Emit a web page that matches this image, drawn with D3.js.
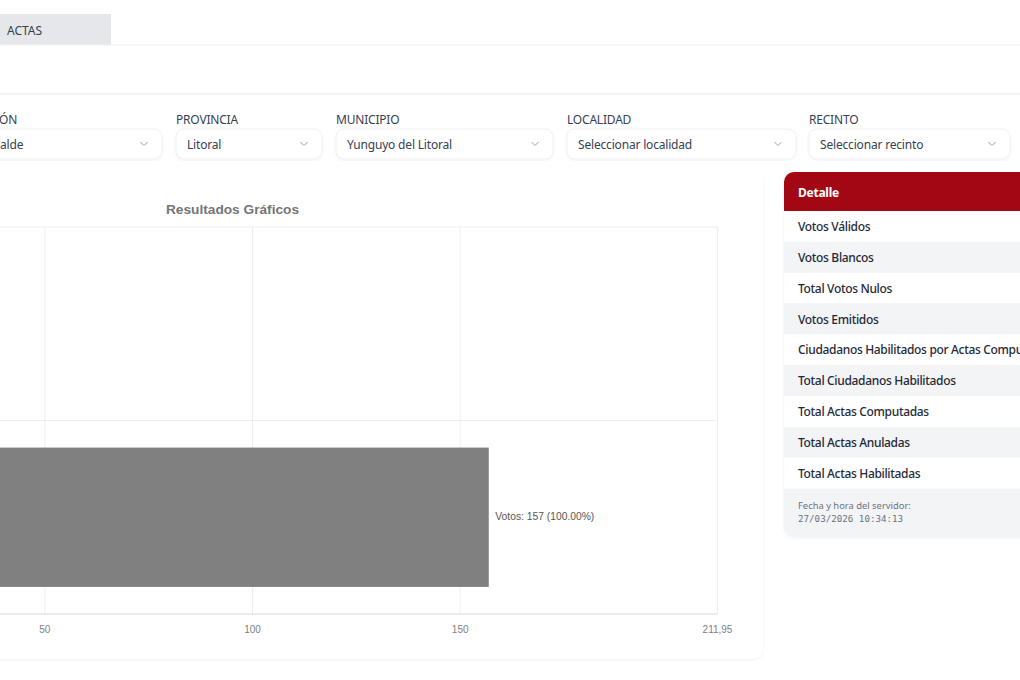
<!DOCTYPE html>
<html lang="es">
<head>
<meta charset="utf-8">
<title>Resultados Gráficos</title>
<script src="https://cdn.jsdelivr.net/npm/d3@7"></script>
<style>
    html, body { margin: 0; padding: 0; width: 1020px; height: 680px; overflow: hidden; background: #fff; }
    svg { display: block; font-family: "Noto Sans", sans-serif; }
    .x-axis .domain { display: none; }
    .x-axis line { stroke: #eeeeee; }
    .x-axis text { font-family: "Liberation Sans", sans-serif; font-size: 10px; fill: #808080; }
</style>
</head>
<body>
<svg id="page" width="1020" height="680"></svg>
<script>
// chart values
const BAR_SLOTS = [1, 2];
const BAR_VALUES = [0, 157];
const AXIS_MAX = 211.95;
const AXIS_TICKS = [50, 100, 150, 211.95];

// page texts
const FILTER_LABELS = ['ÓN', 'PROVINCIA', 'MUNICIPIO', 'LOCALIDAD', 'RECINTO'];
const FILTER_VALUES = ['alde', 'Litoral', 'Yunguyo del Litoral', 'Seleccionar localidad', 'Seleccionar recinto'];
const DETAIL_ROWS = [
    'Votos Válidos',
    'Votos Blancos',
    'Total Votos Nulos',
    'Votos Emitidos',
    'Ciudadanos Habilitados por Actas Computadas',
    'Total Ciudadanos Habilitados',
    'Total Actas Computadas',
    'Total Actas Anuladas',
    'Total Actas Habilitadas'
];

// layout of the boxes on the page: [left, right]
const filterBoxes = [[-60, 162], [176, 322], [336, 553], [567, 796], [809, 1010]];

const svg = d3.select('#page');
const defs = svg.append('defs');
defs.append('filter').attr('id', 'soft')
    .attr('x', '-5%').attr('y', '-5%').attr('width', '110%').attr('height', '110%')
    .append('feDropShadow')
    .attr('dx', 0).attr('dy', 1).attr('stdDeviation', 1.5)
    .attr('flood-color', '#000').attr('flood-opacity', 0.06);

// tab bar
svg.append('rect').attr('x', -10).attr('y', 14).attr('width', 121).attr('height', 31).attr('fill', '#e5e7eb');
svg.append('text').attr('x', 7).attr('y', 34.5).attr('font-size', 12).attr('fill', '#374151').text('ACTAS');
svg.append('line').attr('x1', 0).attr('x2', 1020).attr('y1', 45).attr('y2', 45).attr('stroke', '#eeeff1');
svg.append('line').attr('x1', 0).attr('x2', 1020).attr('y1', 94).attr('y2', 94).attr('stroke', '#e8e9ec');

// filters
const filters = svg.append('g').selectAll('g')
    .data(FILTER_LABELS)
    .join('g');

filters.append('text')
    .attr('x', (d, i) => i === 0 ? -1 : filterBoxes[i][0])
    .attr('y', 123.5)
    .attr('font-size', 12)
    .attr('letter-spacing', -0.2)
    .attr('fill', '#374151')
    .text(d => d);

filters.append('rect')
    .attr('x', (d, i) => filterBoxes[i][0])
    .attr('y', 129)
    .attr('width', (d, i) => filterBoxes[i][1] - filterBoxes[i][0])
    .attr('height', 30)
    .attr('rx', 8)
    .attr('fill', '#fff')
    .attr('stroke', '#eff0f2')
    .attr('filter', 'url(#soft)');

filters.append('text')
    .attr('x', (d, i) => i === 0 ? 0 : filterBoxes[i][0] + 11)
    .attr('y', 148.8)
    .attr('font-size', 12)
    .attr('letter-spacing', -0.18)
    .attr('fill', '#374151')
    .text((d, i) => FILTER_VALUES[i]);

filters.append('path')
    .attr('d', (d, i) => {
        let cx = filterBoxes[i][1] - 18;
        return `M${cx - 3.5},142 L${cx},145.5 L${cx + 3.5},142`;
    })
    .attr('fill', 'none')
    .attr('stroke', '#9ca3af')
    .attr('stroke-width', 1);

// chart card
svg.append('rect')
    .attr('x', -40).attr('y', 172).attr('width', 803).attr('height', 487)
    .attr('rx', 10).attr('fill', '#fff').attr('filter', 'url(#soft)');

svg.append('text')
    .attr('x', 232.5).attr('y', 214)
    .attr('text-anchor', 'middle')
    .attr('font-family', '"Liberation Sans", sans-serif')
    .attr('font-size', 13.7)
    .attr('font-weight', 'bold')
    .attr('fill', '#757575')
    .text('Resultados Gráficos');

// the plot starts left of the visible window
let x = d3.scaleLinear().domain([0, AXIS_MAX]).range([-163.3, 717]);
let y = d3.scaleBand().domain(BAR_SLOTS).range([227, 614]).paddingInner(0.28).paddingOuter(0.14);
let step = y.step();

// horizontal grid, one line per band edge
svg.append('g').selectAll('line')
    .data(BAR_SLOTS)
    .join('line')
    .attr('x1', x(0)).attr('x2', x(AXIS_MAX))
    .attr('y1', d => y(d) - y.paddingOuter() * step)
    .attr('y2', d => y(d) - y.paddingOuter() * step)
    .attr('stroke', '#eeeeee');

// x axis with full height ticks as vertical grid
svg.append('g')
    .attr('class', 'x-axis')
    .attr('transform', 'translate(0,614)')
    .call(d3.axisBottom(x)
        .tickValues(AXIS_TICKS)
        .tickSize(-387)
        .tickPadding(12)
        .tickFormat(d => String(d).replace('.', ',')));

svg.append('line')
    .attr('x1', x(0)).attr('x2', x(AXIS_MAX))
    .attr('y1', 614).attr('y2', 614)
    .attr('stroke', '#d9d9d9');

// bars
svg.append('g').selectAll('rect')
    .data(BAR_VALUES)
    .join('rect')
    .attr('x', x(0))
    .attr('y', (d, i) => y(BAR_SLOTS[i]))
    .attr('width', d => x(d) - x(0))
    .attr('height', y.bandwidth())
    .attr('fill', '#808080');

const total = d3.sum(BAR_VALUES);

svg.append('g').selectAll('text')
    .data(BAR_VALUES.filter(d => d > 0))
    .join('text')
    .attr('x', d => x(d) + 6.5)
    .attr('y', y(BAR_SLOTS[1]) + y.bandwidth() / 2 + 2.5)
    .attr('font-family', '"Liberation Sans", sans-serif')
    .attr('font-size', 10.3)
    .attr('fill', '#555')
    .text(d => `Votos: ${d} (${(d / total * 100).toFixed(2)}%)`);

// detail panel
const panel = svg.append('g');
panel.append('rect')
    .attr('x', 784).attr('y', 172).attr('width', 280).attr('height', 365)
    .attr('rx', 10).attr('fill', '#f3f4f6').attr('filter', 'url(#soft)');
panel.append('path')
    .attr('d', 'M784,211 V182 A10,10 0 0 1 794,172 H1030 V211 Z')
    .attr('fill', '#a10813');
panel.append('text')
    .attr('x', 798).attr('y', 197)
    .attr('font-size', 12).attr('font-weight', 700)
    .attr('letter-spacing', -0.25)
    .attr('fill', '#fff')
    .text('Detalle');

panel.selectAll('rect.row')
    .data(DETAIL_ROWS)
    .join('rect')
    .attr('class', 'row')
    .attr('x', 784)
    .attr('y', (d, i) => 211 + i * 30.85)
    .attr('width', 236)
    .attr('height', 30.85)
    .attr('fill', (d, i) => i % 2 ? '#f3f4f6' : '#fff');

panel.selectAll('text.row-label')
    .data(DETAIL_ROWS)
    .join('text')
    .attr('class', 'row-label')
    .attr('x', 798)
    .attr('y', (d, i) => 231 + i * 30.85)
    .attr('font-size', 12)
    .attr('font-weight', 500)
    .attr('letter-spacing', -0.33)
    .attr('fill', '#1f2937')
    .text(d => d);

panel.append('text')
    .attr('x', 798).attr('y', 509)
    .attr('font-size', 9.4)
    .attr('fill', '#6b7280')
    .text('Fecha y hora del servidor:');
panel.append('text')
    .attr('x', 798).attr('y', 522)
    .attr('font-family', '"DejaVu Sans Mono", monospace')
    .attr('font-size', 9.2).attr('fill', '#6b7280')
    .text('27/03/2026 10:34:13');
</script>
</body>
</html>
